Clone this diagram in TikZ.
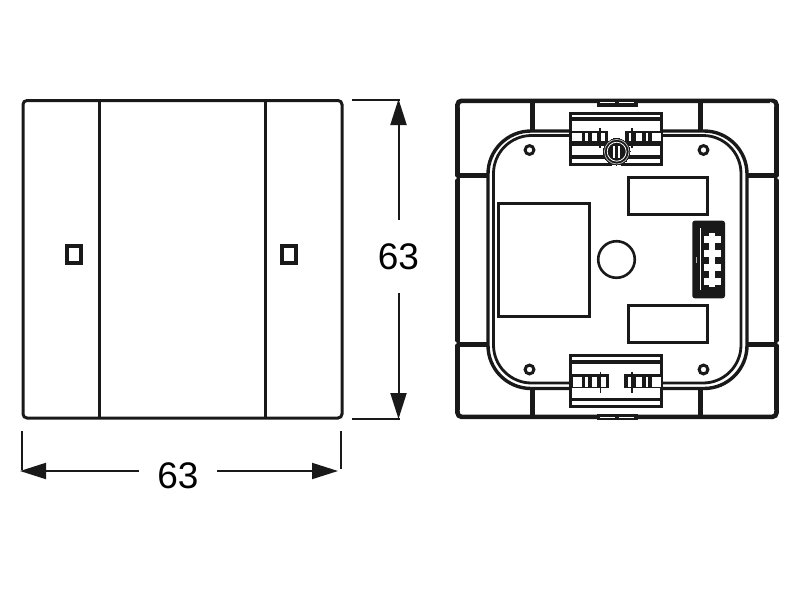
\documentclass[tikz,border=0pt]{standalone}
\usepackage{fontspec}
\setmainfont{Liberation Sans}
\usetikzlibrary{arrows.meta}
\usetikzlibrary{calc}

\tikzset{
  body/.style={draw=black!90, line width=3pt, line join=miter},
  thick part/.style={draw=black!90, line width=5pt},
  dim line/.style={draw=black!90, line width=2pt},
  dim arrow/.style={dim line, -{Triangle[length=26pt, width=16pt]}},
  dim text/.style={font=\fontsize{37}{37}\selectfont, inner sep=0pt},
  terminal/.style={draw=black!90, fill=white, line width=3pt},
  cell/.style={fill=white, draw=none},
  hole/.style={draw=black!90, fill=white, line width=3pt}
}

\begin{document}
\begin{tikzpicture}[x=1pt, y=-1pt]

  \useasboundingbox (0, 0) rectangle (800, 600);

  % front view
  \draw [body, rounded corners=4pt] (23, 100.5) rectangle (342, 418);
  \draw [body] (99, 100.5) -- (99, 418);
  \draw [body] (265.5, 100.5) -- (265.5, 418);

  % leds
  \foreach \ledx in {74, 289} {
    \draw [draw=black!90, line width=4pt] (\ledx - 7, 246) rectangle (\ledx + 7, 263);
  }

  % dimension, width
  \coordinate (widthL) at (20, 471);
  \coordinate (widthR) at (338, 471);
  \node (widthText) [dim text, minimum width=78pt] at (178, 476) {63};
  \draw [dim line] (22.3, 431) -- (22.3, 470);
  \draw [dim line] (340.7, 431) -- (340.7, 469);
  \draw [dim arrow] (widthL -| widthText.west) -- (widthL);
  \draw [dim arrow] (widthR -| widthText.east) -- (widthR);

  % dimension, height
  \coordinate (heightT) at (398.5, 99);
  \coordinate (heightB) at (398.5, 419);
  \node (heightText) [dim text, minimum height=73pt] at (398.5, 256.5) {63};
  \draw [dim line] (352, 99.5) -- (400, 99.5);
  \draw [dim line] (352, 418.5) -- (400, 418.5);
  \draw [dim arrow] (heightT |- heightText.north) -- (heightT);
  \draw [dim arrow] (heightB |- heightText.south) -- (heightB);

  % back view, frame
  \draw [draw=black!90, line width=4.6pt, rounded corners=4pt] (457.5, 100.8) rectangle (776.5, 416.8);
  \draw [white, line width=1pt] (460, 106) arc (180:270:4pt);
  \draw [white, line width=1pt] (770, 102.5) arc (90:0:4pt);
  \draw [white, line width=1pt] (460, 411) arc (180:90:4pt);
  \draw [white, line width=1pt] (774, 411) arc (0:90:4pt);

  % side notches
  \foreach \sidex/\sidey in {455/178, 779/178, 455/343, 779/343} {
    \fill [white] (\sidex, \sidey) circle (1.8pt);
  }

  % ribs
  \foreach \ribx in {532, 700.5} {
    \draw [thick part] (\ribx, 101) -- (\ribx, 131);
    \draw [thick part] (\ribx, 388) -- (\ribx, 417);
  }
  \foreach \riby in {175, 344} {
    \draw [thick part] (457, \riby) -- (488, \riby);
    \draw [thick part] (746, \riby) -- (777, \riby);
  }

  % back view, double edge
  \draw [draw=black!90, line width=3.4pt, rounded corners=43pt] (488, 131) rectangle (747, 388.5);
  \draw [draw=black!90, line width=2.8pt, rounded corners=38pt] (493.5, 135.5) rectangle (741, 383);

  % clips on the frame
  \draw [draw=black!90, fill=black!90, line width=0pt] (597, 100) rectangle (637, 106);
  \draw [white, line width=1pt] (600, 102) -- (615, 102) (618.5, 102) -- (633.5, 102);
  \draw [draw=black!90, fill=black!90, line width=0pt] (597, 414) rectangle (637, 419);
  \draw [white, line width=1pt] (600, 417.3) -- (615, 417.3) (618.5, 417.3) -- (633.5, 417.3);

  % screw holes
  \foreach \holex in {529.5, 703.5} {
    \foreach \holey in {150, 369.5} {
      \draw [hole] (\holex, \holey) circle (4.4pt);
    }
  }

  % openings
  \draw [body] (628.5, 177.5) rectangle (707, 214.5);
  \draw [body] (628.5, 305.5) rectangle (707, 342.5);
  \draw [body] (498.5, 203.5) rectangle (589, 316.5);
  \draw [draw=black!90, line width=2.6pt] (616.5, 259.5) circle (18.3pt);

  % socket
  \fill [black!90, rounded corners=2.5pt] (692.3, 220.7) rectangle (725, 298.3);
  \draw [white, line width=0.7pt] (700.5, 228) -- (700.5, 290);
  \draw [white!70!black, line width=0.6pt] (696.5, 257) -- (696.5, 263);
  \fill [white] (708.5, 233) rectangle (715, 287);
  \foreach \pinY in {239.5, 253.5, 267.5, 281.5} {
    \fill [white] (704, \pinY - 3.5) rectangle (720.5, \pinY + 3.5);
  }

  % top terminal
  \draw [terminal] (570.5, 113.7) rectangle (661.5, 164.5);
  \fill [black!90] (570, 117.3) rectangle (662, 121.3);
  \fill [black!90] (570, 141.7) rectangle (662, 145.5);
  \fill [black!90] (570, 155) rectangle (662, 159);
  \fill [black!90] (571.7, 131) rectangle (608, 141.7);
  \fill [black!90] (625, 131) rectangle (661, 141.7);
  \foreach \cellA/\cellB in {572/581.5, 585/587.5, 591.5/596.5, 601/604.5, 628.5/631.5, 636/641.5, 645.5/648, 652/661} {
    \fill [cell] (\cellA, 133) rectangle (\cellB, 141);
  }
  \draw [draw=black!90, line width=1.2pt] (600, 128) -- (600, 148);
  \draw [draw=black!90, line width=1.2pt] (632, 128) -- (632, 148);
  \fill [white] (612, 160) rectangle (621, 166.5);
  \draw [draw=black!90, fill=black!90, line width=0pt] (616.7, 151.7) circle (13.3pt);
  \draw [white!75!black, line width=0.7pt] (616.7, 151.7) circle (12.3pt);
  \draw [white, line width=0.8pt] (616.7, 151.7) circle (9.5pt);
  \fill [white] (613.2, 146) rectangle (615.2, 157.5);
  \fill [white] (618.2, 146) rectangle (620.2, 157.5);

  % bottom terminal
  \draw [terminal] (570.5, 355.3) rectangle (661.5, 406);
  \fill [black!90] (570, 360) rectangle (662, 364);
  \fill [black!90] (570, 398) rectangle (662, 401);
  \fill [black!90] (571.7, 374.3) rectangle (609, 388.3);
  \fill [black!90] (624, 374.3) rectangle (661, 388.3);
  \foreach \cellA/\cellB in {572.5/581.5, 585/587.5, 591.5/596.5, 601/605.5, 627.5/631, 636/641.5, 645.5/648, 652/661} {
    \fill [cell] (\cellA, 376.8) rectangle (\cellB, 387);
  }
  \draw [draw=black!90, line width=1.2pt] (600.5, 371.5) -- (600.5, 393);
  \draw [draw=black!90, line width=1.2pt] (632, 371.5) -- (632, 393);

\end{tikzpicture}
\end{document}
